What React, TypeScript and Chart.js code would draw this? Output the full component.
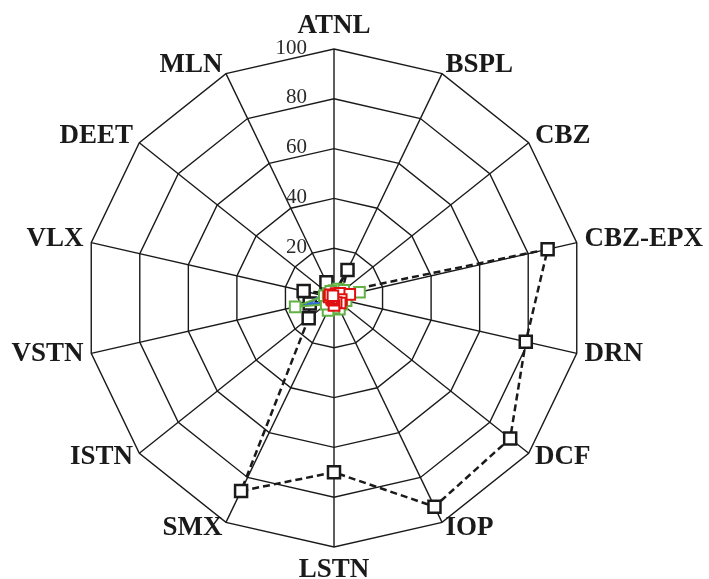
import React, { useEffect, useRef } from "react";
import { Chart, registerables } from "chart.js";

Chart.register(...registerables);

const categories = ["ATNL", "BSPL", "CBZ", "CBZ-EPX", "DRN", "DCF", "IOP", "LSTN", "SMX", "ISTN", "VSTN", "VLX", "DEET", "MLN"];
const tickValues = [0, 20, 40, 60, 80, 100];

const seriesBlack = [2, 12.5, 4, 88, 79, 90.5, 93, 70, 86, 13, 10, 12.5, 3, 7];
const seriesBlue = [1, 1, 1, 2, 1, 1, 1, 1, 2, 3, 11, 5, 1, 1];
const seriesGreen = [3, 4, 5, 10.5, 5, 4, 5, 4, 5.5, 4, 16, 4, 3, 3];
const seriesRed = [1, 2, 3, 6.5, 3, 3.2, 2, 3, 1, 1, 1, 2, 2, 1];

const seriesNames = ["Series 1", "Series 2", "Series 3", "Series 4"];

const labelPlugin = {
  id: "customLabels",
  beforeDatasetsDraw(chart: any) {
    const s = chart.scales.r;
    const ctx = chart.ctx;
    ctx.save();
    ctx.font = '21px "Liberation Serif", "Times New Roman", serif';
    ctx.fillStyle = "#2a2a2a";
    ctx.textAlign = "right";
    ctx.textBaseline = "middle";
    tickValues.forEach((v) => {
      const d = s.getDistanceFromCenterForValue(v);
      ctx.fillText(String(v), s.xCenter - 27, s.yCenter - d - 1);
    });
    ctx.restore();
  },
  afterDraw(chart: any) {
    const s = chart.scales.r;
    const ctx = chart.ctx;
    ctx.save();
    ctx.font = 'bold 27px "Liberation Serif", "Times New Roman", serif';
    ctx.fillStyle = "#1a1a1a";
    ctx.textBaseline = "alphabetic";
    const n = categories.length;
    categories.forEach((lab, i) => {
      const pos = s.getPointPosition(i, s.drawingArea + 8);
      let y = pos.y + 5.5;
      if (i === 0) {
        ctx.textAlign = "center";
        y = pos.y - 8;
      } else if (i * 2 === n) {
        ctx.textAlign = "center";
        y = pos.y + 22;
      } else if (i < n / 2) {
        ctx.textAlign = "left";
      } else {
        ctx.textAlign = "right";
      }
      ctx.fillText(lab, pos.x, y);
    });
    ctx.restore();
  },
};

export default function App() {
  const ref = useRef<HTMLCanvasElement>(null);
  useEffect(() => {
    if (!ref.current) return;
    const common = {
      fill: false,
      tension: 0,
      pointStyle: "rect",
      pointBackgroundColor: "#ffffff",
      backgroundColor: "rgba(0,0,0,0)",
    };
    const chart = new Chart(ref.current, {
      type: "radar",
      data: {
        labels: categories,
        datasets: [
          {
            ...common,
            label: seriesNames[3],
            data: seriesRed,
            borderColor: "#e01010",
            borderWidth: 2,
            pointBorderColor: "#e01010",
            pointBorderWidth: 2,
            pointRadius: 7.5,
          },
          {
            ...common,
            label: seriesNames[2],
            data: seriesGreen,
            borderColor: "#62b046",
            borderWidth: 2,
            pointBorderColor: "#62b046",
            pointBorderWidth: 2,
            pointRadius: 7.5,
          },
          {
            ...common,
            label: seriesNames[1],
            data: seriesBlue,
            borderColor: "#2f6fd6",
            borderWidth: 2.5,
            pointRadius: 0,
          },
          {
            ...common,
            label: seriesNames[0],
            data: seriesBlack,
            borderColor: "#1a1a1a",
            borderWidth: 2.5,
            borderDash: [7, 4],
            pointBorderColor: "#1a1a1a",
            pointBorderWidth: 2.5,
            pointRadius: 8.5,
          },
        ],
      },
      options: {
        animation: false,
        responsive: true,
        maintainAspectRatio: false,
        layout: { padding: { left: 85, right: 125, top: 49, bottom: 31 } },
        plugins: { legend: { display: false }, tooltip: { enabled: false } },
        scales: {
          r: {
            min: 0,
            max: 100,
            ticks: { display: false, stepSize: 20 },
            grid: { color: "#1a1a1a", lineWidth: 1.4 },
            angleLines: { color: "#1a1a1a", lineWidth: 1.4 },
            pointLabels: { display: false },
          },
        },
      },
      plugins: [labelPlugin],
    } as any);
    return () => chart.destroy();
  }, []);
  return (
    <div style={{ position: "absolute", left: 0, top: 0, width: 709, height: 579 }}>
      <canvas ref={ref} style={{ display: "block" }} />
    </div>
  );
}
